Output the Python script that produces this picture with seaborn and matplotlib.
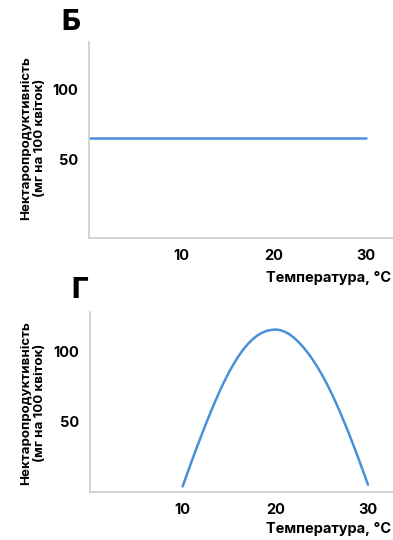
import matplotlib
matplotlib.use("Agg")
import matplotlib.pyplot as plt
import seaborn as sns
import pandas as pd

# ---- data ----
temp_b = [0, 10, 20, 30]
nectar_b = [65, 65, 65, 65]

temp_g = [10, 10.5, 11, 11.5, 12, 12.5, 13, 13.5, 14, 14.5, 15, 15.5, 16, 16.5, 17, 17.5,
          18, 18.5, 19, 19.5, 20, 20.5, 21, 21.5, 22, 22.5, 23, 23.5, 24, 24.5, 25, 25.5,
          26, 26.5, 27, 27.5, 28, 28.5, 29, 29.5, 30]
nectar_g = [4, 13.3, 22.4, 31.3, 40, 48.5, 56.7, 64.5, 72, 79, 85.5, 91.4, 96.7, 101.4, 105.4, 108.7,
            111.4, 113.5, 114.9, 115.6, 116, 115.6, 114.5, 112.7, 110.2, 107.1, 103.5, 99.4, 94.8, 89.7, 84.1, 78,
            71.4, 64.3, 56.8, 48.9, 40.7, 32.2, 23.4, 14.4, 5.2]

x_ticks = [10, 20, 30]
y_ticks = [50, 100]
ylabel = "Нектаропродуктивність\n(мг на 100 квіток)"
xlabel = "Температура, °C"
titles = ["Б", "Г"]

sns.set_theme(style="white")
plt.rcParams['font.family'] = ['Inter', 'DejaVu Sans']
plt.rcParams['text.color'] = 'black'
plt.rcParams['xtick.color'] = 'black'
plt.rcParams['ytick.color'] = 'black'

W, H = 393, 540
fig = plt.figure(figsize=(W / 100, H / 100), dpi=100)

line_color = "#4a90d9"
axis_color = "#cccccc"


def px_axes(left, top, right, bottom):
    return fig.add_axes([left / W, 1 - bottom / H, (right - left) / W, (bottom - top) / H])


ax1 = px_axes(89, 42, 393, 238)
ax2 = px_axes(90, 312, 393, 492)

df_b = pd.DataFrame({"t": temp_b, "n": nectar_b})
df_g = pd.DataFrame({"t": temp_g, "n": nectar_g})

sns.lineplot(data=df_b, x="t", y="n", ax=ax1, color=line_color, linewidth=1.8)
sns.lineplot(data=df_g, x="t", y="n", ax=ax2, color=line_color, linewidth=1.8)

ax1.set_xlim(0, 32.9)
ax1.set_ylim(-6.4, 133.6)
ax2.set_xlim(0, 32.7)
ax2.set_ylim(0, 128.5)

for ax, ly, xly in [(ax1, 138, 278), (ax2, 403, 529)]:
    ax.set_xticks(x_ticks)
    ax.set_yticks(y_ticks)
    ax.set_xticklabels([str(v) for v in x_ticks], fontsize=10.5, fontweight='bold', color='black')
    ax.set_yticklabels([str(v) for v in y_ticks], fontsize=10.5, fontweight='bold', color='black')
    for s in ["top", "right"]:
        ax.spines[s].set_visible(False)
    for s in ["left", "bottom"]:
        ax.spines[s].set_color(axis_color)
        ax.spines[s].set_linewidth(1.2)
    ax.tick_params(axis='x', direction='inout', length=8, width=1.0, color=axis_color, pad=4)
    ax.tick_params(axis='y', length=0, pad=8)
    ax.set_xlabel("")
    ax.set_ylabel("")
    fig.text(33 / W, 1 - ly / H, ylabel, rotation=90, ha='center', va='center',
             multialignment='center', fontsize=9.6, fontweight='bold', linespacing=1.3,
             color='black')
    fig.text(391 / W, 1 - xly / H, xlabel, ha='right', va='center', fontsize=10.5,
             fontweight='bold', color='black')

fig.text(61 / W, 1 - 23 / H, titles[0], ha='left', va='center', fontsize=21,
         fontweight='heavy', color='black')
fig.text(71 / W, 1 - 290 / H, titles[1], ha='left', va='center', fontsize=21,
         fontweight='heavy', color='black')

fig.savefig("out.png", dpi=100)
